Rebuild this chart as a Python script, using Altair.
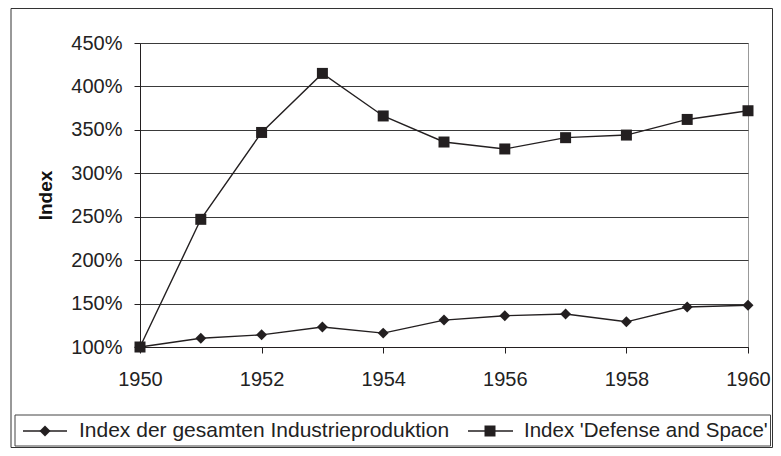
import altair as alt
import pandas as pd

years = list(range(1950, 1961))
industrie = [100, 110, 114, 123, 116, 131, 136, 138, 129, 146, 148]
defense = [100, 247, 347, 415, 366, 336, 328, 341, 344, 362, 372]
series_names = ["Index der gesamten Industrieproduktion", "Index 'Defense and Space'"]
y_ticks = [1.0, 1.5, 2.0, 2.5, 3.0, 3.5, 4.0, 4.5]
x_ticks = [1950, 1952, 1954, 1956, 1958, 1960]

rows = []
for y, a, b in zip(years, industrie, defense):
    rows.append({"Jahr": y, "Wert": a / 100, "Reihe": series_names[0]})
    rows.append({"Jahr": y, "Wert": b / 100, "Reihe": series_names[1]})
df = pd.DataFrame(rows)

INK = "#231f20"
FONT = "Liberation Sans"

x_enc = alt.X("Jahr:Q", scale=alt.Scale(domain=[1950, 1960], nice=False, zero=False),
              axis=alt.Axis(values=x_ticks, format="d", title=None, grid=False,
                            tickSize=6, labelPadding=16, labelFontSize=20,
                            labelFont=FONT, labelColor="#222", domainColor=INK,
                            tickColor=INK, labelFlush=False))
y_enc = alt.Y("Wert:Q", scale=alt.Scale(domain=[1.0, 4.5], nice=False, zero=False),
              axis=alt.Axis(values=y_ticks, format=".0%", title="Index",
                            tickSize=6, labelPadding=12, labelFontSize=20,
                            labelFont=FONT, labelColor="#222", domainColor=INK,
                            tickColor=INK, gridColor="#3a3a3a", gridWidth=1,
                            titleFont=FONT, titleFontSize=19, titleFontWeight="bold",
                            titleColor="#111", titlePadding=15))

lines = alt.Chart(df).mark_line(color=INK, strokeWidth=1.4).encode(
    x=x_enc, y=y_enc, detail="Reihe:N")

points = alt.Chart(df).mark_point(filled=True, opacity=1, color=INK).encode(
    x="Jahr:Q", y="Wert:Q",
    shape=alt.Shape("Reihe:N", scale=alt.Scale(domain=series_names, range=["diamond", "square"]), legend=None),
    size=alt.Size("Reihe:N", scale=alt.Scale(domain=series_names, range=[120, 121]), legend=None))

one = pd.DataFrame({"a": [0]})

outer = alt.Chart(one).mark_rect(fill=None, stroke="#333", strokeWidth=1).encode(
    x=alt.value(-129), x2=alt.value(632.5), y=alt.value(-34.5), y2=alt.value(404.5))
legend_box = alt.Chart(one).mark_rect(fill=None, stroke="#444", strokeWidth=1).encode(
    x=alt.value(-125), x2=alt.value(630.5), y=alt.value(372), y2=alt.value(403))

LY = 388
leg_rule1 = alt.Chart(one).mark_rule(color=INK, strokeWidth=1.4).encode(
    x=alt.value(-117), x2=alt.value(-73), y=alt.value(LY))
leg_pt1 = alt.Chart(one).mark_point(shape="diamond", filled=True, opacity=1, color=INK, size=120).encode(
    x=alt.value(-95), y=alt.value(LY))
leg_txt1 = alt.Chart(one).mark_text(align="left", baseline="middle", font=FONT, fontSize=21, color="#222").encode(
    x=alt.value(-61), y=alt.value(LY), text=alt.value(series_names[0]))
leg_rule2 = alt.Chart(one).mark_rule(color=INK, strokeWidth=1.4).encode(
    x=alt.value(328), x2=alt.value(373), y=alt.value(LY))
leg_pt2 = alt.Chart(one).mark_point(shape="square", filled=True, opacity=1, color=INK, size=121).encode(
    x=alt.value(350), y=alt.value(LY))
leg_txt2 = alt.Chart(one).mark_text(align="left", baseline="middle", font=FONT, fontSize=20.5, color="#222").encode(
    x=alt.value(384), y=alt.value(LY), text=alt.value(series_names[1]))

chart = alt.layer(
    lines, points, outer, legend_box,
    leg_rule1, leg_pt1, leg_txt1, leg_rule2, leg_pt2, leg_txt2
).properties(
    width=608, height=304,
    padding={"left": 132, "top": 35, "right": 25, "bottom": 101},
    autosize=alt.AutoSizeParams(type="none"),
    background="white"
).configure_view(stroke="#999", strokeWidth=1)

chart.save("out.html", embed_options={"renderer": "svg", "actions": False})
